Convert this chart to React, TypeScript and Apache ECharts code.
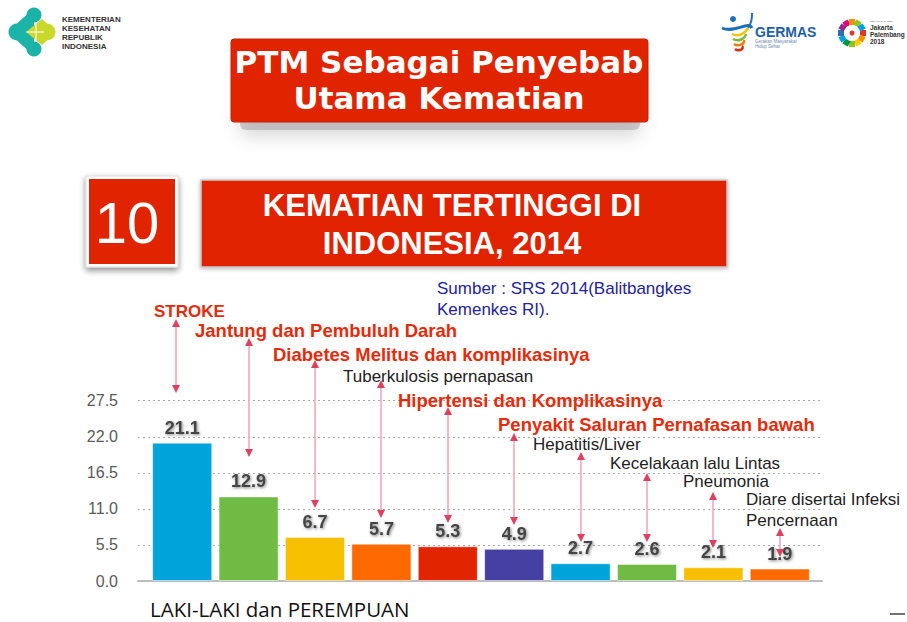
import React, { useEffect, useRef } from "react";
import * as echarts from "echarts";

// ---- data ----
const categories = [
  "STROKE",
  "Jantung dan Pembuluh Darah",
  "Diabetes Melitus dan komplikasinya",
  "Tuberkulosis pernapasan",
  "Hipertensi dan Komplikasinya",
  "Penyakit Saluran Pernafasan bawah",
  "Hepatitis/Liver",
  "Kecelakaan lalu Lintas",
  "Pneumonia",
  "Diare disertai Infeksi Pencernaan",
];
const values = [21.1, 12.9, 6.7, 5.7, 5.3, 4.9, 2.7, 2.6, 2.1, 1.9];
const barColors = [
  "#00a3da", "#6fbb44", "#f6c000", "#ff6a00", "#e12500",
  "#4640a2", "#00a3da", "#6fbb44", "#f6c000", "#ff6a00",
];
const yTickMin = 0;
const yTickMax = 27.5;
const yTickStep = 5.5;
const annotationLines = [
  ["STROKE"],
  ["Jantung dan Pembuluh Darah"],
  ["Diabetes Melitus dan komplikasinya"],
  ["Tuberkulosis pernapasan"],
  ["Hipertensi dan Komplikasinya"],
  ["Penyakit Saluran Pernafasan bawah"],
  ["Hepatitis/Liver"],
  ["Kecelakaan lalu Lintas"],
  ["Pneumonia"],
  ["Diare disertai Infeksi", "Pencernaan"],
];
const annotationBold = [true, true, true, false, true, true, false, false, false, false];
const headerLine1 = "PTM Sebagai Penyebab";
const headerLine2 = "Utama Kematian";
const rankText = "10";
const titleLine1 = "KEMATIAN TERTINGGI DI";
const titleLine2 = "INDONESIA, 2014";
const sourceLines = ["Sumber : SRS 2014(Balitbangkes", "Kemenkes RI)."];
const xAxisTitle = "LAKI-LAKI dan PEREMPUAN";
const ministryLines = ["KEMENTERIAN", "KESEHATAN", "REPUBLIK", "INDONESIA"];

// ---- layout (pixels) ----
const annoPos = [
  { x: 154, y: 311, size: 17 },
  { x: 195, y: 330, size: 18.5 },
  { x: 273, y: 354, size: 18.5 },
  { x: 343, y: 376, size: 17 },
  { x: 398, y: 400, size: 18.5 },
  { x: 498, y: 424, size: 18.5 },
  { x: 533, y: 444, size: 17 },
  { x: 610, y: 463, size: 17 },
  { x: 683, y: 481, size: 17 },
  { x: 746, y: 499, size: 17 },
];
const arrowSpan = [
  [319, 393], [338, 457], [360, 508], [380, 518], [407, 523],
  [433, 525], [452, 542], [473, 542], [492, 548], [528, 557],
];

const RED = "#e12400";
const FONT = "'Liberation Sans', Arial, sans-serif";

function buildGraphics(xs: number[]) {
  const g: any[] = [];
  // Kemenkes logo
  const teal = "#1bb3a7";
  const lime = "#c9d92c";
  g.push({ type: "circle", shape: { cx: 17, cy: 32, r: 8.5 }, style: { fill: teal } });
  g.push({ type: "circle", shape: { cx: 34, cy: 15, r: 7.5 }, style: { fill: teal } });
  g.push({ type: "circle", shape: { cx: 34, cy: 49, r: 7.5 }, style: { fill: teal } });
  g.push({ type: "polygon", shape: { points: [[17, 23.5], [34, 8], [34, 56], [17, 40.5]] }, style: { fill: teal } });
  g.push({ type: "circle", shape: { cx: 47, cy: 32, r: 8.5 }, style: { fill: lime } });
  g.push({ type: "polygon", shape: { points: [[26, 32], [42, 19], [47, 23.5], [47, 40.5], [42, 45]] }, style: { fill: lime } });
  g.push({ type: "line", shape: { x1: 26, y1: 32, x2: 44, y2: 32 }, style: { stroke: "#fff", lineWidth: 1 } });
  g.push({ type: "line", shape: { x1: 36, y1: 23, x2: 36, y2: 41 }, style: { stroke: "#fff", lineWidth: 1 } });
  ministryLines.forEach((t, i) => {
    g.push({
      type: "text", x: 62, y: 19 + i * 9.2,
      style: { text: t, font: `bold 8px ${FONT}`, fill: "#333", textVerticalAlign: "middle" },
    });
  });

  // GERMAS logo
  const swoosh = [
    { c: "#f3c300", y: 34, w: 2.5 },
    { c: "#77b944", y: 39, w: 2.5 },
    { c: "#f07c00", y: 44, w: 2.5 },
    { c: "#e02a1c", y: 49, w: 2.5 },
  ];
  g.push({ type: "circle", shape: { cx: 733, cy: 19, r: 3 }, style: { fill: "#1d6fb8" } });
  g.push({
    type: "bezierCurve",
    shape: { x1: 722, y1: 28, x2: 752, y2: 28, cpx1: 735, cpy1: 34, cpx2: 748, cpy2: 20 },
    style: { stroke: "#1d6fb8", lineWidth: 3, fill: "none" },
  });
  g.push({
    type: "bezierCurve",
    shape: { x1: 748, y1: 28, x2: 752, y2: 13, cpx1: 752, cpy1: 22, cpx2: 752, cpy2: 18 },
    style: { stroke: "#1d6fb8", lineWidth: 2, fill: "none" },
  });
  swoosh.forEach((s, i) => {
    g.push({
      type: "bezierCurve",
      shape: { x1: 732 + i, y1: s.y, x2: 748 - i * 2, y2: s.y - 6 + i, cpx1: 738, cpy1: s.y + 3, cpx2: 745, cpy2: s.y },
      style: { stroke: s.c, lineWidth: s.w, fill: "none" },
    });
  });
  g.push({ type: "text", x: 755, y: 32, style: { text: "GERMAS", font: `bold 14px ${FONT}`, fill: "#1e5fa6", textVerticalAlign: "middle" } });
  g.push({ type: "text", x: 755, y: 41, style: { text: "Gerakan Masyarakat", font: `4.5px ${FONT}`, fill: "#6a8ab0", textVerticalAlign: "middle" } });
  g.push({ type: "text", x: 755, y: 46, style: { text: "Hidup Sehat", font: `4.5px ${FONT}`, fill: "#6a8ab0", textVerticalAlign: "middle" } });

  // Asian Games logo
  const agColors = ["#e5332a", "#f39200", "#ffcc00", "#95c11f", "#009640", "#00a0e3", "#2c6eb5", "#8b2c8b", "#e5007d", "#f39200", "#95c11f", "#00a0e3"];
  agColors.forEach((c, i) => {
    const a = (i / agColors.length) * Math.PI * 2;
    const cx = 852 + Math.cos(a) * 11;
    const cy = 33 + Math.sin(a) * 11;
    g.push({ type: "rect", shape: { x: cx - 3, y: cy - 3, width: 6, height: 6 }, rotation: -a, originX: cx, originY: cy, style: { fill: c } });
  });
  g.push({ type: "circle", shape: { cx: 852, cy: 33, r: 2.5 }, style: { fill: "#e5332a" } });
  g.push({ type: "text", x: 870, y: 21, style: { text: "18th ASIAN GAMES", font: `2.5px ${FONT}`, fill: "#555", textVerticalAlign: "middle" } });
  g.push({ type: "text", x: 870, y: 27, style: { text: "Jakarta", font: `bold 6.5px ${FONT}`, fill: "#333", textVerticalAlign: "middle" } });
  g.push({ type: "text", x: 870, y: 34, style: { text: "Palembang", font: `bold 6.5px ${FONT}`, fill: "#333", textVerticalAlign: "middle" } });
  g.push({ type: "text", x: 870, y: 41, style: { text: "2018", font: `bold 6.5px ${FONT}`, fill: "#333", textVerticalAlign: "middle" } });

  // Header banner
  g.push({
    type: "rect", shape: { x: 240, y: 60, width: 400, height: 70, r: 6 },
    style: { fill: "rgba(120,120,120,0.35)", shadowBlur: 18, shadowColor: "rgba(0,0,0,0.45)", shadowOffsetY: 6 },
  });
  g.push({ type: "rect", shape: { x: 231, y: 39, width: 417, height: 83, r: 3 }, style: { fill: RED, stroke: "#c81e00", lineWidth: 1 } });
  g.push({ type: "text", x: 439, y: 62, style: { text: headerLine1, font: `bold 31px 'DejaVu Sans', Verdana, sans-serif`, fill: "#fff", textAlign: "center", textVerticalAlign: "middle" } });
  g.push({ type: "text", x: 439, y: 98, style: { text: headerLine2, font: `bold 31px 'DejaVu Sans', Verdana, sans-serif`, fill: "#fff", textAlign: "center", textVerticalAlign: "middle" } });

  // Rank box
  g.push({
    type: "rect", shape: { x: 86, y: 176, width: 92, height: 91 },
    style: { fill: "#fff", stroke: "#ddd", lineWidth: 1, shadowBlur: 6, shadowColor: "rgba(0,0,0,0.45)", shadowOffsetY: 3 },
  });
  g.push({ type: "rect", shape: { x: 89, y: 179, width: 86, height: 85 }, style: { fill: RED } });
  g.push({ type: "text", x: 127, y: 222, style: { text: rankText, font: `58px ${FONT}`, fill: "#fff", textAlign: "center", textVerticalAlign: "middle" } });

  // Title box
  g.push({
    type: "rect", shape: { x: 201, y: 180, width: 526, height: 87 },
    style: { fill: RED, stroke: "#ccc", lineWidth: 1.5, shadowBlur: 4, shadowColor: "rgba(0,0,0,0.3)", shadowOffsetY: 1 },
  });
  g.push({ type: "text", x: 452, y: 205, style: { text: titleLine1, font: `bold 31px ${FONT}`, fill: "#fff", textAlign: "center", textVerticalAlign: "middle" } });
  g.push({ type: "text", x: 452, y: 243, style: { text: titleLine2, font: `bold 31px ${FONT}`, fill: "#fff", textAlign: "center", textVerticalAlign: "middle" } });

  // Source
  sourceLines.forEach((t, i) => {
    g.push({ type: "text", x: 437, y: 288 + i * 21, style: { text: t, font: `17px ${FONT}`, fill: "#23239a", textVerticalAlign: "middle" } });
  });

  // Annotations and arrows
  annotationLines.forEach((lines, i) => {
    const p = annoPos[i];
    const bold = annotationBold[i];
    lines.forEach((t, j) => {
      g.push({
        type: "text", x: p.x, y: p.y + j * 21, z: 100,
        style: {
          text: t,
          font: `${bold ? "bold " : ""}${p.size}px ${FONT}`,
          fill: bold ? "#e52b0b" : "#222",
          textVerticalAlign: "middle",
        },
      });
    });
    const x = Math.round(xs[i]) - (i === 0 ? 6 : 0);
    const [top, bot] = arrowSpan[i];
    g.push({ type: "line", z: 100, shape: { x1: x, y1: top + 4, x2: x, y2: bot - 4 }, style: { stroke: "#f0a3b5", lineWidth: 1.5 } });
    g.push({ type: "polygon", z: 101, shape: { points: [[x, top], [x - 4, top + 8], [x + 4, top + 8]] }, style: { fill: "#e0405f" } });
    g.push({ type: "polygon", z: 101, shape: { points: [[x, bot], [x - 4, bot - 8], [x + 4, bot - 8]] }, style: { fill: "#e0405f" } });
  });

  // x axis title
  g.push({ type: "text", x: 150, y: 609, style: { text: xAxisTitle, font: `20.5px 'Open Sans', sans-serif`, fill: "#111", textVerticalAlign: "middle" } });
  g.push({ type: "line", shape: { x1: 890, y1: 614, x2: 905, y2: 614 }, style: { stroke: "#444", lineWidth: 1.5 } });
  return g;
}

export default function App() {
  const ref = useRef<HTMLDivElement>(null);
  useEffect(() => {
    if (!ref.current) return;
    document.body.style.margin = "0";
    const chart = echarts.init(ref.current, null, { renderer: "svg" });
    chart.setOption({
      animation: false,
      backgroundColor: "#ffffff",
      grid: [
        { left: 138, right: 85, top: 400.7, bottom: 41, containLabel: false },
        { left: 149, right: 94, top: 400.7, bottom: 41, containLabel: false },
      ],
      xAxis: [
        {
          type: "category",
          gridIndex: 0,
          data: [""],
          axisLabel: { show: false },
          axisTick: { show: false },
          axisLine: { lineStyle: { color: "#bdbdbd", width: 2 } },
        },
        {
          type: "category",
          gridIndex: 1,
          data: categories,
          axisLabel: { show: false },
          axisTick: { show: false },
          axisLine: { show: false },
        },
      ],
      yAxis: [
        {
          type: "value",
          gridIndex: 0,
          min: yTickMin,
          max: yTickMax,
          interval: yTickStep,
          axisLine: { show: false },
          axisTick: { show: false },
          axisLabel: {
            formatter: (v: number) => v.toFixed(1),
            fontFamily: FONT,
            fontSize: 16,
            color: "#5a5a5a",
            margin: 20,
          },
          splitLine: { lineStyle: { color: "#aaaaaa", type: [2, 3], width: 1 } },
        },
        {
          type: "value",
          gridIndex: 1,
          min: yTickMin,
          max: yTickMax,
          interval: yTickStep,
          show: false,
          splitLine: { show: false },
        },
      ],
      series: [
        {
          type: "bar",
          xAxisIndex: 1,
          yAxisIndex: 1,
          data: values.map((v, i) => ({ value: v, itemStyle: { color: barColors[i] } })),
          barCategoryGap: "9.5%",
          itemStyle: { borderColor: "rgba(255,255,255,0.5)", borderWidth: 1 },
          label: {
            show: true,
            position: "top",
            distance: 6,
            fontFamily: FONT,
            fontWeight: "bold",
            fontSize: 18,
            color: "#444",
            textShadowColor: "rgba(0,0,0,0.5)",
            textShadowBlur: 3,
            textShadowOffsetX: 1,
            textShadowOffsetY: 1,
          },
        },
      ],
    });
    const xs = categories.map((_, i) => chart.convertToPixel({ xAxisIndex: 1 }, i) as number);
    chart.setOption({ graphic: buildGraphics(xs) });
    return () => chart.dispose();
  }, []);
  return (
    <div
      ref={ref}
      style={{ position: "fixed", left: 0, top: 0, width: 907, height: 622 }}
    />
  );
}
